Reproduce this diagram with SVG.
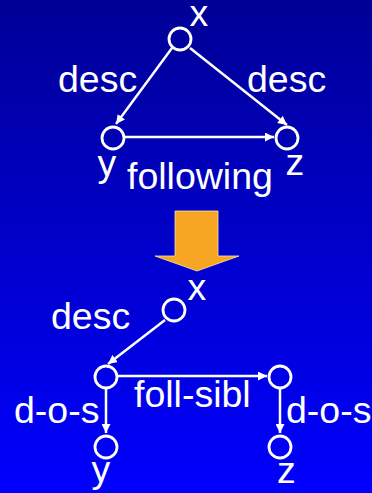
<svg xmlns="http://www.w3.org/2000/svg" width="372" height="493" viewBox="0 0 372 493">
  <defs>
    <linearGradient id="bg" x1="0" y1="0" x2="0" y2="1">
      <stop offset="0" stop-color="#000096"/>
      <stop offset="1" stop-color="#0000FF"/>
    </linearGradient>
    <marker id="arrow" markerUnits="userSpaceOnUse" markerWidth="10" markerHeight="9" refX="9" refY="4.5" orient="auto">
      <path d="M0,0 L9,4.5 L0,9 Z" fill="#FFFFFF"/>
    </marker>
  </defs>
  <style>
    .node { fill: none; stroke: #FFFFFF; stroke-width: 2.8; }
    .edge { fill: none; stroke: #FFFFFF; stroke-width: 2.5; marker-end: url(#arrow); }
    .lbl { font-family: "Liberation Sans", Arial, sans-serif; font-size: 37.5px; fill: #FFFFFF; }
  </style>

  <rect x="0" y="0" width="372" height="493" fill="url(#bg)"/>

  <!-- upper graph: desc / desc / following -->
  <g id="edges-top">
    <line class="edge" x1="172" y1="48" x2="116" y2="124"/>
    <line class="edge" x1="190" y1="48" x2="287" y2="125"/>
    <line class="edge" x1="125" y1="137" x2="274" y2="137"/>
  </g>
  <g id="top-x">
    <circle class="node" cx="180" cy="39" r="11"/>
    <text class="lbl" x="189.5" y="26">x</text>
  </g>
  <g id="top-y">
    <circle class="node" cx="113" cy="138" r="11"/>
    <text class="lbl" x="97.5" y="176">y</text>
  </g>
  <g id="top-z">
    <circle class="node" cx="287" cy="138" r="11"/>
    <text class="lbl" x="285.5" y="175">z</text>
  </g>
  <g id="top-labels">
    <text class="lbl" x="58" y="92">desc</text>
    <text class="lbl" x="247" y="92">desc</text>
    <text class="lbl" x="127" y="188.5">following</text>
  </g>

  <!-- rewrite arrow -->
  <g id="rewrite-arrow">
    <path d="M175,211 L218,211 L218,256 L239,256 L197,271 L155,256 L175,256 Z" fill="#F7A623" stroke="#FFE3A8" stroke-width="0.8"/>
  </g>

  <!-- lower graph: desc / foll-sibl / d-o-s -->
  <g id="edges-bottom">
    <line class="edge" x1="165" y1="320" x2="108" y2="364"/>
    <line class="edge" x1="118" y1="376" x2="267" y2="376"/>
    <line class="edge" x1="106" y1="389" x2="106" y2="433"/>
    <line class="edge" x1="280" y1="389" x2="280" y2="433"/>
  </g>
  <g id="bot-x">
    <circle class="node" cx="174" cy="310" r="11"/>
    <text class="lbl" x="187.5" y="300">x</text>
  </g>
  <g id="bot-mid-left">
    <circle class="node" cx="106" cy="377" r="11"/>
  </g>
  <g id="bot-mid-right">
    <circle class="node" cx="280" cy="377" r="11"/>
  </g>
  <g id="bot-y">
    <circle class="node" cx="106" cy="447" r="11"/>
    <text class="lbl" x="91.5" y="482">y</text>
  </g>
  <g id="bot-z">
    <circle class="node" cx="280" cy="447" r="11"/>
    <text class="lbl" x="277" y="483">z</text>
  </g>
  <g id="bottom-labels">
    <text class="lbl" x="51" y="329">desc</text>
    <text class="lbl" x="134" y="407">foll-sibl</text>
    <text class="lbl" x="14" y="423">d-o-s</text>
    <text class="lbl" x="286" y="423">d-o-s</text>
  </g>
</svg>
